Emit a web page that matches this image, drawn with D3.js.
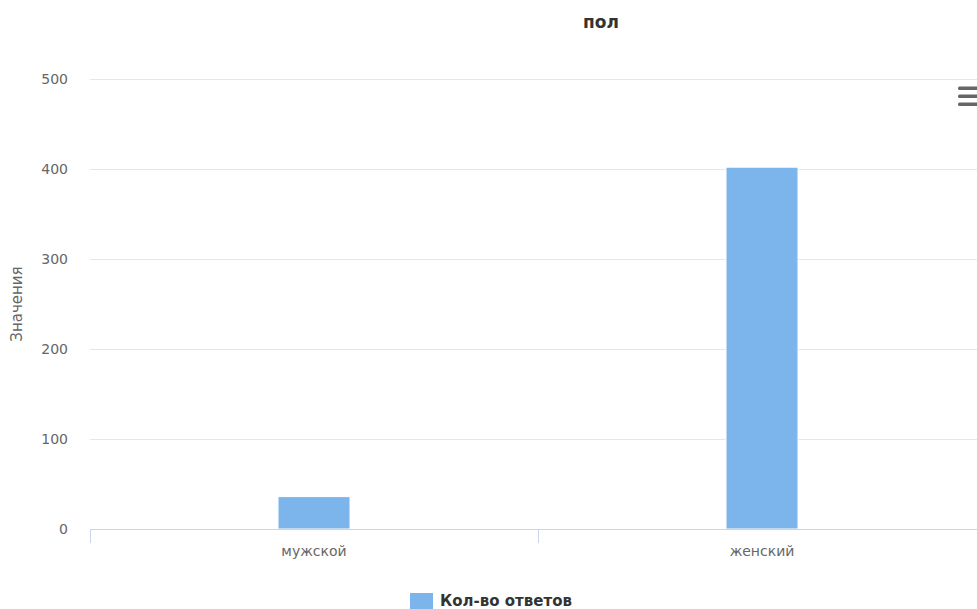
<!DOCTYPE html>
<html><head><meta charset="utf-8">
<script src="https://cdn.jsdelivr.net/npm/d3@7"></script>
<style>body{margin:0;background:#fff;} svg{display:block;font-family:"DejaVu Sans",Verdana,sans-serif;}</style>
</head><body>
<script>
const categories = ["мужской", "женский"];
const values = [36, 402];
const yTicks = [0, 100, 200, 300, 400, 500];
const seriesName = "Кол-во ответов";
const titleText = "пол";
const yTitle = "Значения";

const W = 977, H = 609;
const svg = d3.select("body").append("svg").attr("width", W).attr("height", H);
const pLeft = 90, pRight = 986, pTop = 79, pBottom = 529;

const x = d3.scaleBand().domain(categories).range([pLeft, pRight]).paddingInner(0).paddingOuter(0);
const y = d3.scaleLinear().domain([0, 500]).range([pBottom, pTop]);

// gridlines
svg.append("g").selectAll("line").data(yTicks.filter(d => d !== 0)).join("line")
  .attr("x1", pLeft).attr("x2", pRight)
  .attr("y1", d => Math.round(y(d)) + 0.5).attr("y2", d => Math.round(y(d)) + 0.5)
  .attr("stroke", "#e6e6e6").attr("stroke-width", 1);

// y labels
svg.append("g").selectAll("text").data(yTicks).join("text")
  .attr("x", 68).attr("y", d => y(d) + 5)
  .attr("text-anchor", "end").attr("font-size", 14).attr("fill", "#666")
  .text(d => d);

// bars
const barW = 72;
svg.append("g").selectAll("rect").data(values).join("rect")
  .attr("x", (d, i) => x(categories[i]) + x.bandwidth() / 2 - barW / 2)
  .attr("y", d => y(d))
  .attr("width", barW)
  .attr("height", d => pBottom - y(d))
  .attr("fill", "#7cb5ec").attr("stroke", "#fff").attr("stroke-width", 1);

// x axis line
svg.append("line").attr("x1", pLeft).attr("x2", pRight)
  .attr("y1", pBottom + 0.5).attr("y2", pBottom + 0.5)
  .attr("stroke", "#ccd6eb").attr("stroke-width", 1);
// ticks at band boundaries
const tickPos = categories.map(c => x(c));
svg.append("g").selectAll("line").data(tickPos).join("line")
  .attr("x1", d => Math.round(d) + 0.5).attr("x2", d => Math.round(d) + 0.5)
  .attr("y1", pBottom).attr("y2", pBottom + 14)
  .attr("stroke", "#ccd6eb").attr("stroke-width", 1);

// x labels
svg.append("g").selectAll("text").data(categories).join("text")
  .attr("x", d => x(d) + x.bandwidth() / 2).attr("y", 556)
  .attr("text-anchor", "middle").attr("font-size", 14).attr("fill", "#666")
  .text(d => d);

// title
svg.append("text").attr("x", 601).attr("y", 28).attr("text-anchor", "middle")
  .attr("font-size", 17).attr("font-weight", "bold").attr("fill", "#333").text(titleText);

// y title
svg.append("text").attr("transform", `translate(22,${(pTop + pBottom) / 2}) rotate(-90)`)
  .attr("text-anchor", "middle").attr("font-size", 15).attr("fill", "#666").text(yTitle);

// menu icon
const menu = svg.append("g");
[88, 96, 104].forEach(yy => {
  menu.append("rect").attr("x", 958).attr("y", yy - 1.5).attr("width", 24).attr("height", 3.5)
    .attr("rx", 1.5).attr("fill", "#666");
});

// legend
svg.append("rect").attr("x", 410).attr("y", 593).attr("width", 23).attr("height", 16)
  .attr("fill", "#7cb5ec");
svg.append("text").attr("x", 440).attr("y", 606).attr("font-size", 15)
  .attr("font-weight", "bold").attr("fill", "#333").text(seriesName);
</script>
</body></html>
